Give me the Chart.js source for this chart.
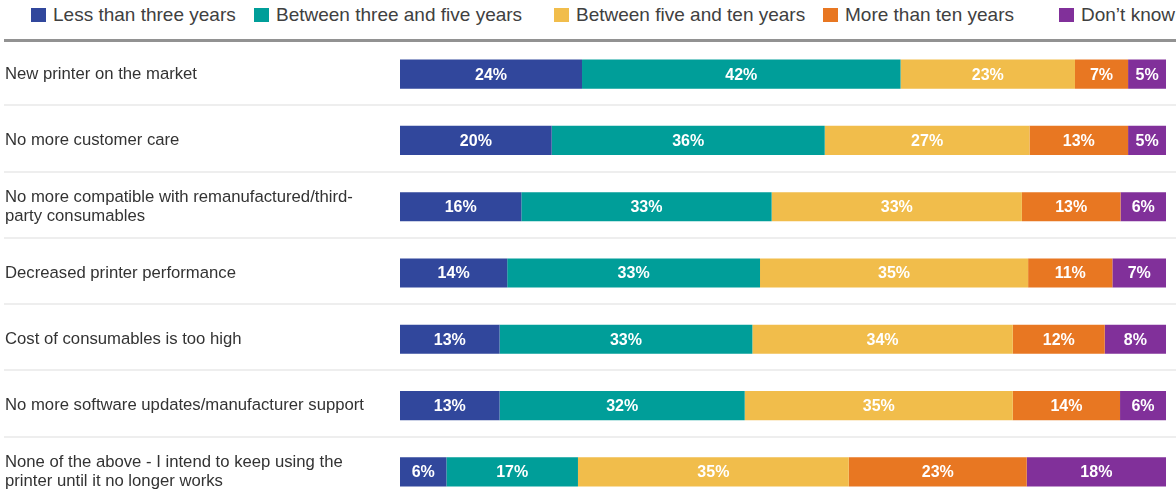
<!DOCTYPE html>
<html>
<head>
<meta charset="utf-8">
<script src="https://cdn.jsdelivr.net/npm/chart.js@4"></script>
<style>
  html, body {
    margin: 0;
    padding: 0;
    background: #fff;
    width: 1176px;
    height: 497px;
    overflow: hidden;
    font-family: "Liberation Sans", Arial, sans-serif;
  }
  #legend {
    position: absolute;
    left: 0;
    top: 0;
    width: 1176px;
    height: 39px;
  }
  .item {
    position: absolute;
    top: 5px;
    height: 20px;
    display: flex;
    align-items: center;
    white-space: nowrap;
    font-size: 19px;
    color: #404040;
  }
  .swatch {
    width: 15px;
    height: 14px;
    margin-right: 7px;
  }
  #rule {
    position: absolute;
    left: 4px;
    right: 0;
    top: 39px;
    height: 3px;
    background: #929292;
  }
  #wrap {
    position: absolute;
    left: 0;
    top: 41px;
    width: 1176px;
    height: 464px;
  }
</style>
</head>
<body>
<div id="legend"></div>
<div id="rule"></div>
<div id="wrap"><canvas id="chart"></canvas></div>
<script>
// reasons for replacing a printer, share of answers per time span
const categories = [
  'New printer on the market',
  'No more customer care',
  ['No more compatible with remanufactured/third-', 'party consumables'],
  'Decreased printer performance',
  'Cost of consumables is too high',
  'No more software updates/manufacturer support',
  ['None of the above - I intend to keep using the', 'printer until it no longer works']
];

const seriesNames = [
  'Less than three years',
  'Between three and five years',
  'Between five and ten years',
  'More than ten years',
  'Don\u2019t know'
];

const lessThanThree = [24, 20, 16, 14, 13, 13, 6];
const threeToFive   = [42, 36, 33, 33, 33, 32, 17];
const fiveToTen     = [23, 27, 33, 35, 34, 35, 35];
const moreThanTen   = [7, 13, 13, 11, 12, 14, 23];
const dontKnow      = [5, 5, 6, 7, 8, 6, 18];

const seriesValues = [lessThanThree, threeToFive, fiveToTen, moreThanTen, dontKnow];
const colors = ['#31479c', '#009e99', '#f1bd4b', '#e87722', '#81309a'];

// where each legend entry starts
const legendLefts = [31, 254, 554, 823, 1059];

// each row fills the whole width; labels keep the rounded percentages
const rowTotals = categories.map((c, i) => seriesValues.reduce((s, arr) => s + arr[i], 0));

const legend = document.getElementById('legend');
seriesNames.forEach((name, i) => {
  const item = document.createElement('div');
  item.className = 'item';
  item.style.left = legendLefts[i] + 'px';
  item.innerHTML = '<span class="swatch" style="background:' + colors[i] + '"></span>' + name;
  legend.appendChild(item);
});

const rowSeparators = {
  id: 'rowSeparators',
  beforeDatasetsDraw(chart) {
    const ctx = chart.ctx;
    const y = chart.scales.y;
    ctx.save();
    ctx.strokeStyle = '#eeeeee';
    ctx.lineWidth = 2;
    for (let i = 1; i < categories.length; i++) {
      const yy = Math.round((y.getPixelForValue(i - 1) + y.getPixelForValue(i)) / 2) - 2;
      ctx.beginPath();
      ctx.moveTo(4, yy);
      ctx.lineTo(chart.width, yy);
      ctx.stroke();
    }
    ctx.restore();
  }
};

const barLabels = {
  id: 'barLabels',
  afterDatasetsDraw(chart) {
    const ctx = chart.ctx;
    ctx.save();
    ctx.fillStyle = '#ffffff';
    ctx.font = 'bold 16px "Liberation Sans", Arial, sans-serif';
    ctx.textAlign = 'center';
    ctx.textBaseline = 'middle';
    chart.data.datasets.forEach((ds, di) => {
      chart.getDatasetMeta(di).data.forEach((bar, i) => {
        const x = (bar.x + bar.base) / 2;
        ctx.fillText(seriesValues[di][i] + '%', x, bar.y + 1);
      });
    });
    ctx.restore();
  }
};

new Chart(document.getElementById('chart'), {
  type: 'bar',
  data: {
    labels: categories,
    datasets: seriesValues.map((vals, i) => ({
      label: seriesNames[i],
      data: vals.map((v, j) => v / rowTotals[j] * 100),
      backgroundColor: colors[i],
      borderWidth: 0,
      barPercentage: 0.44,
      categoryPercentage: 1
    }))
  },
  options: {
    indexAxis: 'y',
    responsive: true,
    maintainAspectRatio: false,
    animation: false,
    layout: { padding: { left: 5, right: 10, top: 0, bottom: 0 } },
    plugins: {
      legend: { display: false },
      tooltip: { enabled: false }
    },
    scales: {
      x: {
        stacked: true,
        min: 0,
        max: 100,
        display: false
      },
      y: {
        stacked: true,
        grid: { display: false },
        border: { display: false },
        ticks: {
          crossAlign: 'far',
          padding: 0,
          color: '#333333',
          font: { family: '"Liberation Sans", Arial, sans-serif', size: 16.7, lineHeight: 1.15 }
        },
        afterFit(scale) {
          // fixed label column, and no extra room for the outer labels
          scale.width = 395;
          scale.paddingTop = 0;
          scale.paddingBottom = 0;
        }
      }
    }
  },
  plugins: [rowSeparators, barLabels]
});
</script>
</body>
</html>
